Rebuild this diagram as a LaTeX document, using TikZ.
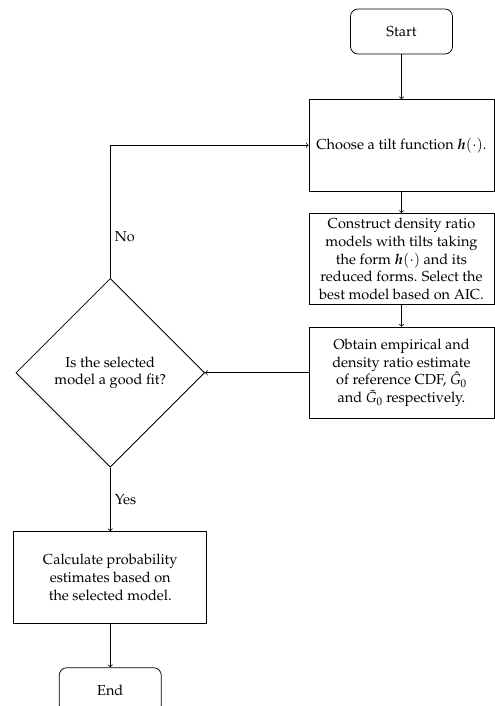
\documentclass[tikz,border=0pt]{standalone}
\usepackage[T1]{fontenc}
\usepackage{amsmath,amssymb}
\usepackage{mathpazo}
\usetikzlibrary{shapes.geometric,positioning}

\begin{document}
\begin{tikzpicture}[x=0.8pt, y=0.8pt, node distance={91pt}, line width=0.6pt, font=\fontsize{11.6}{14.2}\selectfont,
    term/.style = {draw, rounded corners=6pt, minimum width=81.6pt, minimum height=36pt},
    proc/.style = {draw, minimum width=148pt, minimum height=73pt, align=center, inner sep=2pt},
    decision/.style = {draw, diamond, aspect=1, minimum width=151pt, minimum height=151pt, inner sep=0pt, align=center}]
      \useasboundingbox (0,0) rectangle (494,-706);

      \node[term] (1) at (401.5,-31.5) {Start};
      \node[proc] (2) [below of=1] {Choose a tilt function $\boldsymbol{h}(\cdot)$.};
      \node[proc] (3) [below of=2] {Construct density ratio\\ models with tilts taking\\ the form $\boldsymbol{h}(\cdot)$ and its\\ reduced forms. Select the\\ best model based on AIC.};
      \node[proc] (4) [below of=3] {Obtain empirical and\\ density ratio estimate\\ of reference CDF, $\hat{G}_0$\\ and $\tilde{G}_0$ respectively.};
      \node[decision] (5) [left of=4, node distance=233pt] {Is the selected\\ model a good fit?};
      \node[proc, minimum width=154.4pt] (6) [below of=5, node distance=163.6pt] {Calculate probability\\ estimates based on\\ the selected model.};
      \node[term] (7) [below of=6, node distance=90.4pt] {End};

      \path[->]
      (1) edge (2)
      (2) edge (3)
      (3) edge (4)
      (4) edge (5)
      (5) edge node[right] {Yes} (6)
      (6) edge (7);
      \draw[->] (5) |- node[right, pos=0.155] {No} (2);
    \end{tikzpicture}
\end{document}
